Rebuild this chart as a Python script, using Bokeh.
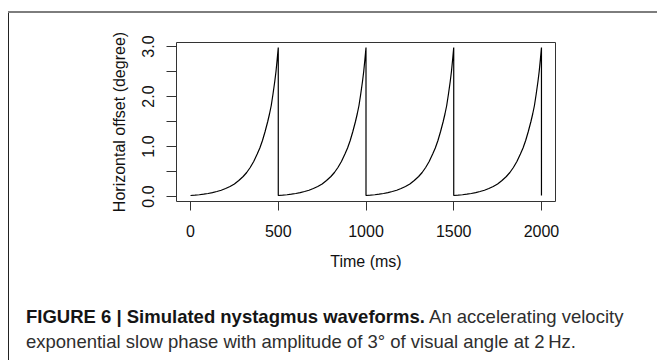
from bokeh.plotting import figure
from bokeh.models import Range1d, FixedTicker, Div
from bokeh.layouts import column
from bokeh.embed import file_html
from bokeh.resources import INLINE

# ---- data ----
# one slow phase (time within cycle in ms, horizontal offset in degree)
phase_t = [0, 25, 50, 75, 100, 125, 150, 175, 200, 225, 250, 275, 300, 320, 340,
           360, 380, 395, 410, 425, 440, 450, 460, 470, 480, 487, 494, 500]
phase_v = [0.02, 0.026, 0.035, 0.046, 0.06, 0.078, 0.10, 0.125, 0.16, 0.20, 0.25, 0.32,
           0.40, 0.48, 0.58, 0.70, 0.85, 0.97, 1.12, 1.30, 1.50, 1.65, 1.82, 2.05, 2.30,
           2.50, 2.75, 2.98]
cycle_starts = [0, 500, 1000, 1500]
reset_value = 0.02

x_ticks = [0, 500, 1000, 1500, 2000]
x_tick_labels = ["0", "500", "1000", "1500", "2000"]
y_ticks = [0.0, 0.5, 1.0, 1.5, 2.0, 2.5, 3.0]
y_tick_labels = ["0.0", "", "1.0", "", "2.0", "", "3.0"]

x_title = "Time (ms)"
y_title = "Horizontal offset (degree)"
caption_bold = "FIGURE 6 | Simulated nystagmus waveforms."
caption_rest1 = "An accelerating velocity"
caption_line2 = "exponential slow phase with amplitude of 3\u00b0 of visual angle at 2\u2009Hz."

# build the waveform: each cycle's slow phase followed by a fast reset
xs, ys = [], []
for c in cycle_starts:
    for t, v in zip(phase_t, phase_v):
        xs.append(c + t)
        ys.append(v)
    xs.append(c + phase_t[-1])
    ys.append(reset_value)

W = 657
H_PLOT, H_CAP = 295, 65
FONT = "Liberation Sans"

p = figure(width=W, height=H_PLOT, output_backend="svg", toolbar_location=None,
           x_range=Range1d(-80, 2080), y_range=Range1d(-0.1, 3.08),
           min_border_left=176, min_border_right=102,
           min_border_top=42, min_border_bottom=H_PLOT - 201)
p.line(xs, ys, line_color="black", line_width=1.2)
p.border_fill_color = None
p.grid.visible = False
p.outline_line_color = "#333333"
p.outline_line_width = 1

for ax in (p.xaxis[0], p.yaxis[0]):
    ax.axis_line_color = None
    ax.major_tick_line_color = "#333333"
    ax.major_tick_in = 0
    ax.minor_tick_line_color = None
    ax.major_label_text_font = FONT
    ax.major_label_text_font_size = "16px"
    ax.major_label_text_color = "#111111"
    ax.axis_label_text_font = FONT
    ax.axis_label_text_font_size = "16px"
    ax.axis_label_text_font_style = "normal"
    ax.axis_label_text_color = "#111111"

p.xaxis.ticker = FixedTicker(ticks=x_ticks)
p.xaxis.major_label_overrides = {t: s for t, s in zip(x_ticks, x_tick_labels)}
p.xaxis.major_tick_out = 9
p.xaxis.major_label_standoff = 14
p.xaxis.axis_label = x_title
p.xaxis.axis_label_standoff = 13

p.yaxis.ticker = FixedTicker(ticks=y_ticks)
p.yaxis.major_label_overrides = {t: s for t, s in zip(y_ticks, y_tick_labels)}
p.yaxis.major_label_orientation = "vertical"
p.yaxis.major_tick_out = 10
p.yaxis.major_label_standoff = 13
p.yaxis.axis_label = y_title
p.yaxis.axis_label_standoff = 11

# caption below the chart
cap_html = (
    f'<div style="margin:0; padding:9px 0 0 26px; font-family:\'{FONT}\', sans-serif; '
    f'font-size:18.5px; line-height:25px; color:#2e2e2e; white-space:nowrap;">'
    f'<span style="font-weight:bold; color:#151515;">{caption_bold}</span> {caption_rest1}<br>'
    f'{caption_line2}</div>'
)
cap = Div(text=cap_html, width=W, height=H_CAP, margin=0)

layout = column(p, cap, spacing=0, styles={
    "background-color": "white",
    "background-image": "linear-gradient(#7d7d7d, #7d7d7d), linear-gradient(#222222, #222222)",
    "background-position": "8px 11px, 8px 11px",
    "background-size": "100% 2px, 1px 100%",
    "background-repeat": "no-repeat",
})

open("out.html", "w").write(file_html(layout, INLINE))
